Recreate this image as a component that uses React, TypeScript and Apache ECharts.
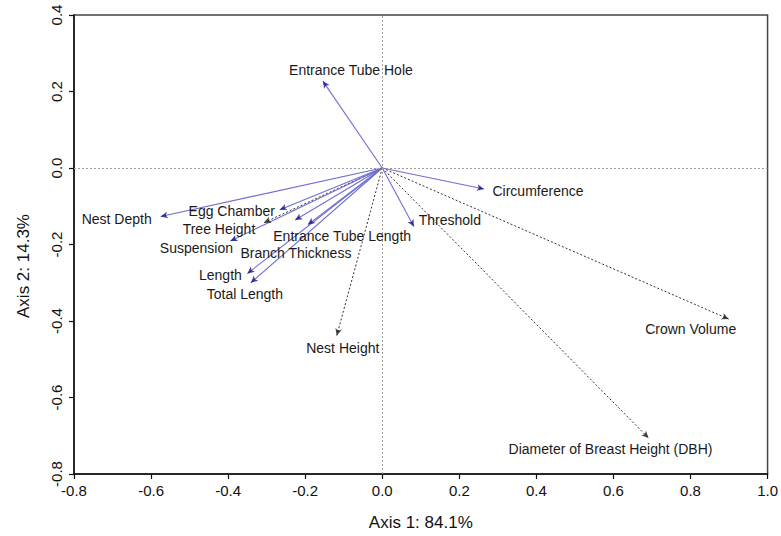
import { useEffect, useRef } from "react";
import * as echarts from "echarts";

// Biplot vectors: loadings of each variable on the first two ordination axes.
const variables = [
  "Entrance Tube Hole",
  "Nest Depth",
  "Egg Chamber",
  "Tree Height",
  "Suspension",
  "Entrance Tube Length",
  "Branch Thickness",
  "Length",
  "Total Length",
  "Nest Height",
  "Crown Volume",
  "Diameter of Breast Height (DBH)",
  "Circumference",
  "Threshold",
];
const axis1 = [-0.154, -0.575, -0.266, -0.307, -0.394, -0.226, -0.193, -0.35, -0.341, -0.118, 0.899, 0.691, 0.264, 0.082];
const axis2 = [0.227, -0.127, -0.109, -0.143, -0.191, -0.136, -0.148, -0.276, -0.3, -0.438, -0.395, -0.706, -0.055, -0.153];
// "nest" vectors are drawn solid blue, "tree" vectors dotted black
const group = ["nest", "nest", "nest", "tree", "nest", "nest", "nest", "nest", "nest", "tree", "tree", "tree", "nest", "nest"];

const axis1Title = "Axis 1: 84.1%";
const axis2Title = "Axis 2: 14.3%";

// pixel offset of each label's centre from its arrow tip
const labelOffsets: Record<string, [number, number]> = {
  "Entrance Tube Hole": [28, -11],
  "Nest Depth": [-44, 2],
  "Egg Chamber": [-48, 1],
  "Tree Height": [-45, 6],
  "Suspension": [-34, 7],
  "Entrance Tube Length": [47, 16],
  "Branch Thickness": [-12, 28],
  "Length": [-27, 1],
  "Total Length": [-6, 11],
  "Nest Height": [6, 12],
  "Crown Volume": [-38, 10],
  "Diameter of Breast Height (DBH)": [-38, 11],
  "Circumference": [54, 2],
  "Threshold": [36, -7],
};

const FONT = "Arial, 'Liberation Sans', sans-serif";
const NEST_LINE = "#6f6fd0";
const NEST_HEAD = "#10108c";
const TREE_LINE = "#333333";

export default function App() {
  const ref = useRef<HTMLDivElement>(null);

  useEffect(() => {
    if (!ref.current) return;
    const chart = echarts.init(ref.current, null, { renderer: "svg" });

    const idx = variables.map((_, i) => i);
    const lineData = (g: string) =>
      idx.filter((i) => group[i] === g).map((i) => ({ coords: [[0, 0], [axis1[i], axis2[i]]] }));
    const headData = (g: string) =>
      idx.filter((i) => group[i] === g).map((i) => ({
        value: [axis1[i], axis2[i]],
        symbolRotate: (Math.atan2(axis2[i], axis1[i]) * 180) / Math.PI - 90,
      }));

    const axisCommon = {
      type: "value" as const,
      interval: 0.2,
      axisLine: { onZero: false, lineStyle: { color: "#111", width: 1.5 } },
      axisTick: { length: 5, lineStyle: { color: "#111", width: 1.2 } },
      splitLine: { show: false },
      axisLabel: {
        fontSize: 15,
        color: "#111",
        fontFamily: FONT,
        margin: 9,
        formatter: (v: number) => v.toFixed(1),
      },
    };

    const yTitle = {
      type: "text",
      x: 23,
      y: 266,
      rotation: Math.PI / 2,
      style: {
        text: axis2Title,
        fontSize: 17,
        fontFamily: FONT,
        fill: "#111",
        align: "center",
        verticalAlign: "middle",
      },
    };

    chart.setOption({
      animation: false,
      backgroundColor: "#fff",
      grid: {
        left: 74,
        right: 12,
        top: 15,
        bottom: 58,
        show: true,
        borderColor: "#444",
        borderWidth: 1.5,
      },
      xAxis: {
        ...axisCommon,
        min: -0.8,
        max: 1.0,
        name: axis1Title,
        nameLocation: "middle",
        nameGap: 40,
        nameTextStyle: { fontSize: 17, color: "#111", fontFamily: FONT },
      },
      yAxis: {
        ...axisCommon,
        min: -0.8,
        max: 0.4,
        axisLabel: { ...axisCommon.axisLabel, rotate: 90, margin: 10 },
      },
      graphic: [yTitle],
      series: [
        {
          type: "scatter",
          name: "origin",
          data: [],
          silent: true,
          markLine: {
            silent: true,
            symbol: "none",
            label: { show: false },
            lineStyle: { type: [2, 2], color: "#9a9a9a", width: 1 },
            data: [{ xAxis: 0 }, { yAxis: 0 }],
          },
        },
        {
          type: "lines",
          coordinateSystem: "cartesian2d",
          silent: true,
          symbol: "none",
          lineStyle: { color: TREE_LINE, width: 1, type: [2, 2], opacity: 1 },
          data: lineData("tree"),
          z: 3,
        },
        {
          type: "lines",
          coordinateSystem: "cartesian2d",
          silent: true,
          symbol: "none",
          lineStyle: { color: NEST_LINE, width: 1.1, opacity: 1 },
          data: lineData("nest"),
          z: 3,
        },
        {
          type: "scatter",
          silent: true,
          symbol: "arrow",
          symbolSize: [5, 7],
          itemStyle: { color: "#111" },
          data: headData("tree"),
          z: 4,
        },
        {
          type: "scatter",
          silent: true,
          symbol: "arrow",
          symbolSize: [5, 7],
          itemStyle: { color: NEST_HEAD },
          data: headData("nest"),
          z: 4,
        },
      ],
    });

    // variable names, placed next to their arrow tips through the grid's scales
    const labels = idx.map((i) => {
      const [px, py] = chart.convertToPixel({ gridIndex: 0 }, [axis1[i], axis2[i]]) as number[];
      const [dx, dy] = labelOffsets[variables[i]];
      return {
        type: "text",
        x: px + dx,
        y: py + dy,
        z: 10,
        style: {
          text: variables[i],
          fontSize: 14,
          fontFamily: FONT,
          fill: "#1a1a1a",
          align: "center",
          verticalAlign: "middle",
        },
      };
    });
    chart.setOption({ graphic: [yTitle, ...labels] });

    return () => chart.dispose();
  }, []);

  return (
    <div
      ref={ref}
      style={{ position: "fixed", left: 0, top: 0, width: 781, height: 536, background: "#fff" }}
    />
  );
}
